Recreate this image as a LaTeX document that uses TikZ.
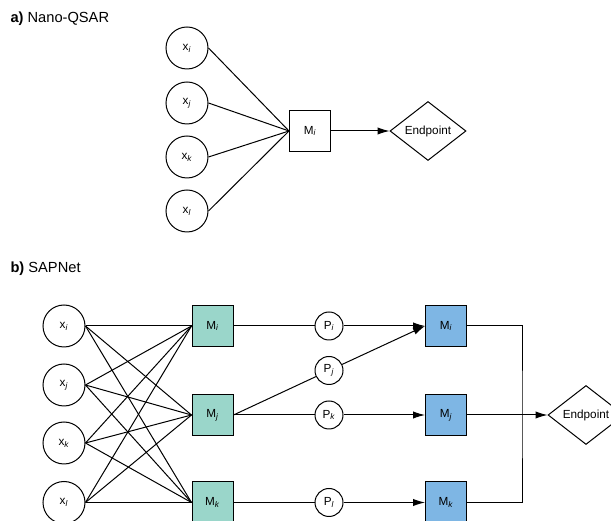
\documentclass[tikz,border=0pt]{standalone}
\usepackage{fontspec}
\setmainfont{Liberation Sans}
\usetikzlibrary{shapes.geometric,arrows.meta}

\definecolor{modelgreen}{HTML}{9AD6CA}
\definecolor{modelblue}{HTML}{7EB6E4}

\begin{document}
\begin{tikzpicture}
  [x=7.5pt,y=7.5pt,line width=0.75pt,font=\fontsize{8.8}{10}\selectfont,
   feat/.style={circle,draw,minimum size=31.5pt,inner sep=0pt},
   prop/.style={circle,draw,minimum size=21pt,inner sep=0pt},
   model/.style={rectangle,draw,minimum size=30.75pt,inner sep=0pt},
   endpt/.style={diamond,draw,aspect=1.29,minimum width=57pt,minimum height=44.25pt,inner sep=0pt},
   title/.style={anchor=base west,inner sep=0pt,font=\fontsize{11}{13}\selectfont},
   arr/.style={-{Latex[length=9pt,width=5.5pt]}}]
  \useasboundingbox (0,0) rectangle (61.1,52.1);

  % a) Nano-QSAR
  \node[title] (ta) at (1.0,49.8) {\textbf{a)} Nano-QSAR};
  \node[feat] (ai) at (18.7,47.3) {x\textsubscript{\textit{i}}};
  \node[feat] (aj) at (18.7,41.8) {x\textsubscript{\textit{j}}};
  \node[feat] (ak) at (18.7,36.4) {x\textsubscript{\textit{k}}};
  \node[feat] (al) at (18.7,31.0) {x\textsubscript{\textit{l}}};
  \node[model] (aM) at (31.0,39.0) {M\textsubscript{\textit{i}}};
  \node[endpt] (aE) at (42.8,39.0) {Endpoint};
  \foreach \n in {ai,aj,ak,al}
    \draw (\n.east) -- (aM.west);
  \draw[arr] (aM) -- (aE);

  % b) SAPNet
  \node[title] (tb) at (1.0,24.8) {\textbf{b)} SAPNet};
  \node[feat] (bi) at (6.4,19.5) {x\textsubscript{\textit{i}}};
  \node[feat] (bj) at (6.4,13.6) {x\textsubscript{\textit{j}}};
  \node[feat] (bk) at (6.4,7.8) {x\textsubscript{\textit{k}}};
  \node[feat] (bl) at (6.4,1.85) {x\textsubscript{\textit{l}}};
  \node[model,fill=modelgreen] (gMi) at (21.25,19.5) {M\textsubscript{\textit{i}}};
  \node[model,fill=modelgreen] (gMj) at (21.25,10.6) {M\textsubscript{\textit{j}}};
  \node[model,fill=modelgreen] (gMk) at (21.25,1.85) {M\textsubscript{\textit{k}}};
  \node[prop] (Pi) at (32.9,19.5) {P\textsubscript{\textit{i}}};
  \node[prop] (Pj) at (32.9,15.05) {P\textsubscript{\textit{j}}};
  \node[prop] (Pk) at (32.9,10.6) {P\textsubscript{\textit{k}}};
  \node[prop] (Pl) at (32.9,1.85) {P\textsubscript{\textit{l}}};
  \node[model,fill=modelblue] (bMi) at (44.6,19.5) {M\textsubscript{\textit{i}}};
  \node[model,fill=modelblue] (bMj) at (44.6,10.6) {M\textsubscript{\textit{j}}};
  \node[model,fill=modelblue] (bMk) at (44.6,1.85) {M\textsubscript{\textit{k}}};
  \coordinate (jn) at (52.2,10.6);
  \node[endpt] (bE) at (58.6,10.6) {Endpoint};

  \foreach \f in {bi,bj,bk,bl}
    \foreach \m in {gMi,gMj,gMk}
      \draw (\f.east) -- (\m.west);
  \foreach \from/\via/\to in {gMi/Pi/bMi,gMj/Pj/bMi,gMj/Pk/bMj,gMk/Pl/bMk}{
    \draw (\from.east) -- (\via);
    \draw[arr] (\via) -- (\to.west);
  }
  \draw (bMi.east) -| (jn) |- (bMk.east);
  \draw[arr] (bMj.east) -- (bE.west);
\end{tikzpicture}
\end{document}
